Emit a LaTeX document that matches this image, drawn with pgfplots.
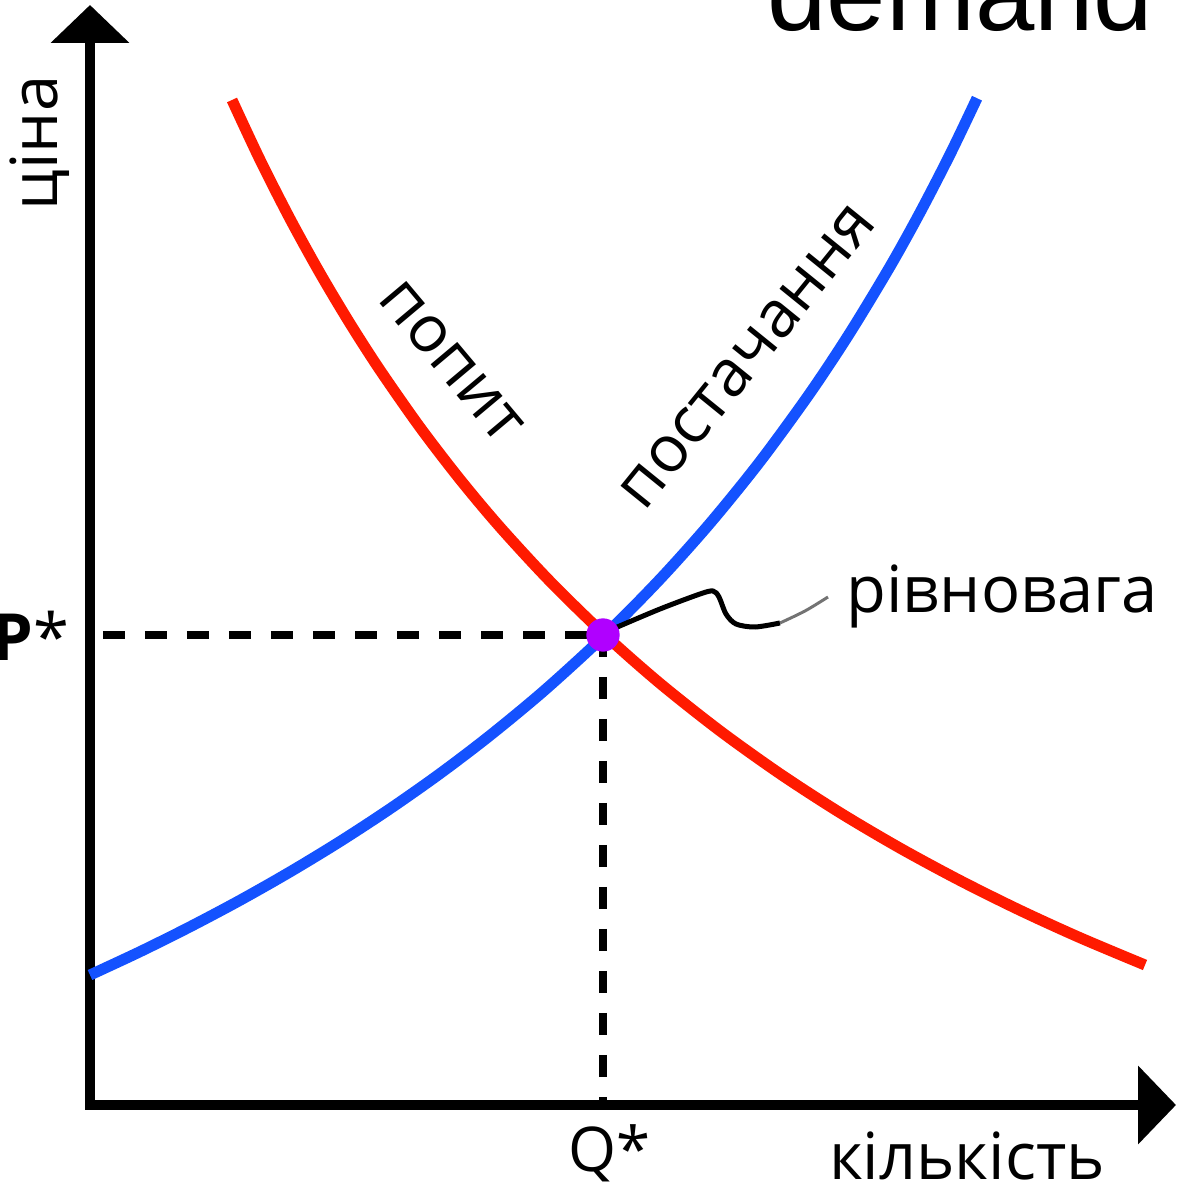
\documentclass[border=0pt]{standalone}
\usepackage{fontspec}
\setmainfont{Open Sans}
\newfontfamily\arialfont{Liberation Sans}
\usepackage{pgfplots}
\pgfplotsset{compat=1.18}
\usetikzlibrary{arrows.meta}

\definecolor{demandred}{RGB}{255,26,0}
\definecolor{supplyblue}{RGB}{20,82,255}
\definecolor{eqviolet}{RGB}{176,0,255}

\newcommand{\lblfont}{\fontsize{19.5}{23}\selectfont}

\begin{document}
\begin{tikzpicture}[font=\lblfont]
\begin{axis}[
  scale only axis,
  width=325.8pt, height=330pt,
  xmin=90, xmax=1176, ymin=84, ymax=1184,
  axis lines=left,
  axis line style={line width=3pt, line cap=rect, -{Triangle[length=11.4pt,width=23pt]}},
  xtick={603}, xticklabels={Q*},
  ytick={553}, yticklabels={\textbf{P}*},
  major tick length=0pt,
  tick style={draw=none},
  xticklabel style={anchor=base, inner sep=0pt, yshift=-20.1pt, xshift=2pt, font=\fontsize{18.5}{22}\selectfont},
  yticklabel style={anchor=east, inner sep=0pt, xshift=-6pt, font=\lblfont},
  clip=false,
]
% dashed guides to the equilibrium
\addplot[black, line width=2.4pt, dash pattern=on 6.6pt off 6pt] coordinates {(103,554) (603,554)};
\addplot[black, line width=2.4pt, dash pattern=on 6.6pt off 6pt] coordinates {(603,554) (603,89)};

% demand
\addplot[demandred, line width=3.3pt, smooth] coordinates {
  (232,1089.0) (260,1029.2) (290,970.2) (320,915.8) (350,865.5) (380,818.9)
  (420,761.7) (460,709.6) (500,661.9) (550,607.7) (605,554.0) (660,505.6)
  (720,458.1) (780,415.2) (840,376.3) (900,340.9) (960,308.5) (1020,278.7)
  (1080,251.3) (1145,224.0)};

% supply
\addplot[supplyblue, line width=3.3pt, smooth] coordinates {
  (90,214.0) (140,237.3) (190,262.2) (240,288.7) (290,317.1) (340,347.5)
  (390,380.2) (440,415.4) (490,453.5) (545,499.1) (605,554.0) (660,609.8)
  (710,665.7) (760,727.4) (810,795.9) (850,856.3) (890,922.4) (920,976.4)
  (950,1034.5) (977,1090.8)};

% pointer to the equilibrium
\addplot[black, line width=1.5pt, smooth] coordinates {
  (615,561) (660,580) (700,595) (713,598) (719,592) (726,575) (736,565)
  (755,562) (780,566)};
\addplot[black!55, line width=0.9pt, smooth] coordinates {
  (780,566) (805,578) (828,592)};

% equilibrium point
\addplot[only marks, mark=*, mark size=4.8pt, color=eqviolet, mark options={fill=eqviolet, draw=eqviolet}] coordinates {(603,554)};

\node[rotate=90, anchor=base] at (axis cs:58,1046) {ціна};
\node[anchor=base] at (axis cs:967,9) {кількість};
\node[anchor=base west, inner sep=0pt] at (axis cs:846,576) {рівновага};
\node[rotate=-50] at (axis cs:451,827) {попит};
\node[rotate=51] at (axis cs:748,832) {постачання};
\node[anchor=base west, inner sep=0pt, font=\arialfont\fontsize{32}{38}\selectfont] at (axis cs:767,1158) {demand};

\coordinate (bl) at (axis cs:0,0);
\coordinate (tr) at (axis cs:1181,1189);
\end{axis}
\pgfresetboundingbox
\path[use as bounding box] (bl) rectangle (tr);
\end{tikzpicture}
\end{document}
